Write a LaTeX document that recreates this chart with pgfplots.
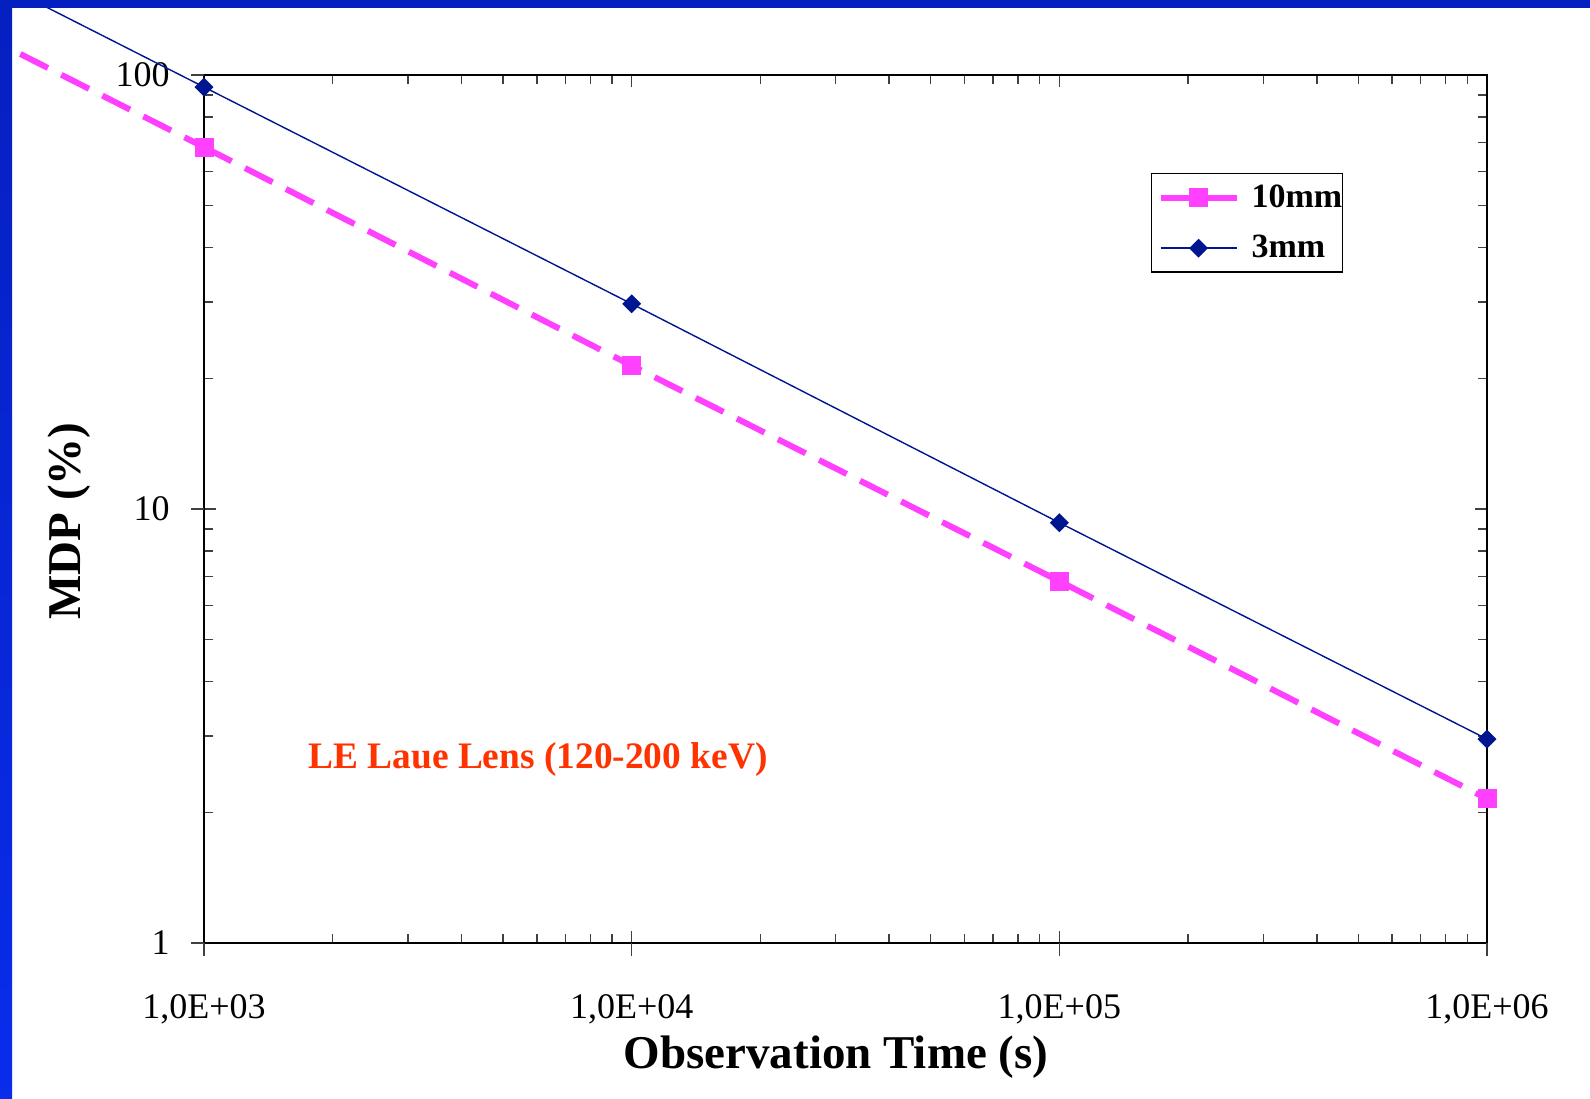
\documentclass[border=0pt]{standalone}
\usepackage{fontspec}
\setmainfont{Liberation Serif}
\usepackage{pgfplots}
\pgfplotsset{compat=1.18}
\definecolor{navyline}{RGB}{0,22,145}
\definecolor{pinkline}{RGB}{255,64,255}
\definecolor{redtxt}{RGB}{255,51,0}
\definecolor{bandblue}{RGB}{5,32,192}
\definecolor{bandblue2}{RGB}{10,44,235}

\begin{document}
\begin{tikzpicture}[x=0.5pt,y=0.5pt]
\fill[white] (0,0) rectangle (1590,1098);
\path[use as bounding box] (0,0) rectangle (1590,1098);
\begin{axis}[
  at={(102pt,77.5pt)}, anchor=south west,
  scale only axis, width=641.5pt, height=434pt,
  xmode=log, ymode=log,
  xmin=1000, xmax=1000000, ymin=1, ymax=100,
  clip=false,
  axis line style={black, line width=0.7pt},
  tick align=inside,
  major tick length=6pt, minor tick length=4.5pt,
  every tick/.style={black!75, line width=0.7pt},
  xtick={1000,10000,100000,1000000},
  xticklabels={{1,0E+03},{1,0E+04},{1,0E+05},{1,0E+06}},
  ytick={1,10,100},
  yticklabels={1,10,100},
  /pgf/number format/assume math mode=true,
  xticklabel style={anchor=base, yshift=-37.5pt, font=\fontsize{18}{20}\selectfont},
  yticklabel style={anchor=east, inner sep=0pt, xshift=-17pt, font=\fontsize{18}{20}\selectfont},
  legend style={at={(0.738,0.887)}, anchor=north west, draw=black, line width=0.7pt,
    fill=white, font=\bfseries\fontsize{17}{20}\selectfont,
    inner xsep=0pt, inner ysep=3.5pt, row sep=8.5pt,
    nodes={inner xsep=0pt, inner ysep=2pt}},
  legend cell align=left,
  legend image code/.code={\path (0pt,0pt) (47pt,0pt);\draw[mark repeat=2,mark phase=2,#1,solid] plot coordinates {(3pt,0pt) (22pt,0pt) (41pt,0pt)};},
]
% extrapolated line segments beyond the axis (as drawn in the reference)
\addplot[forget plot, navyline, line width=0.7pt] coordinates {(398,148.7) (1000,93.8)};
\addplot[forget plot, pinkline, line width=3pt, dash pattern=on 15.5pt off 7.5pt] coordinates {(372,111.8) (1000,68.2)};

\addplot[pinkline, line width=3pt, dash pattern=on 15.5pt off 7.5pt,
  mark=square*, mark size=3.25pt, mark options={solid, fill=pinkline, draw=pinkline}]
  coordinates {(1000,68.2) (10000,21.4) (100000,6.82) (1000000,2.15)};
\addlegendentry{10mm}
\addplot[navyline, line width=0.7pt,
  mark=square*, mark size=3pt, mark options={solid, rotate=45, fill=navyline, draw=navyline}]
  coordinates {(1000,93.8) (10000,29.7) (100000,9.3) (1000000,2.95)};
\addlegendentry{3mm}

\pgfplotsinvokeforeach{1000,10000,100000,1000000}{\draw[black!75,line width=0.7pt] (axis cs:#1,1) -- ++(0pt,-6.5pt);}
\pgfplotsinvokeforeach{1,10,100}{\draw[black!75,line width=0.7pt] (axis cs:1000,#1) -- ++(-6.5pt,0pt);}
\end{axis}
\node[anchor=base west, text=redtxt, font=\bfseries\fontsize{18.7}{22}\selectfont, inner sep=0pt] at (308,329) {LE Laue Lens (120-200 keV)};
\node[anchor=base, font=\bfseries\fontsize{23.5}{28}\selectfont, inner sep=0pt] at (836,30) {Observation Time (s)};
\node[rotate=90, anchor=base, font=\bfseries\fontsize{23.5}{28}\selectfont, inner sep=0pt] at (80,577) {MDP (\%)};
\fill[bandblue] (0,1090) rectangle (1590,1098);
\shade[top color=bandblue, bottom color=bandblue2] (0,0) rectangle (12,1098);
\end{tikzpicture}
\end{document}
